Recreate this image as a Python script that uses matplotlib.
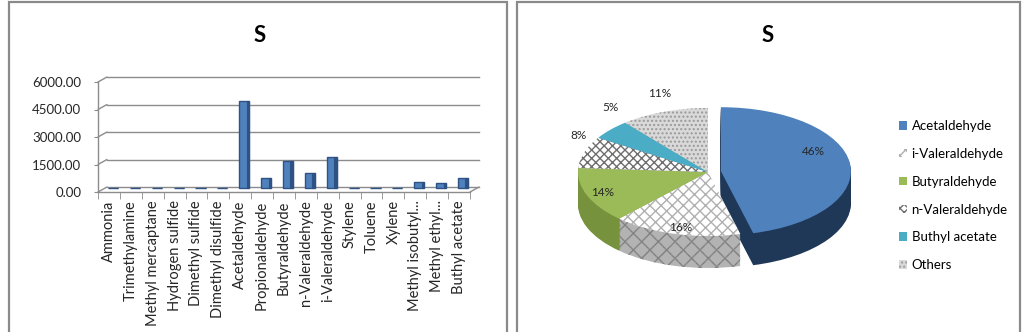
import numpy as np
import matplotlib
matplotlib.use("Agg")
import matplotlib.pyplot as plt
from matplotlib.patches import Rectangle, Patch
from matplotlib.transforms import ScaledTranslation

plt.rcParams['font.family'] = ['Lato', 'DejaVu Sans']

# ---------------- data ----------------
compounds = ["Ammonia", "Trimethylamine", "Methyl mercaptane", "Hydrogen sulfide",
             "Dimethyl sulfide", "Dimethyl disulfide", "Acetaldehyde", "Propionaldehyde",
             "Butyraldehyde", "n-Valeraldehyde", "i-Valeraldehyde", "Stylene", "Toluene",
             "Xylene", "Methyl isobutyl...", "Methyl ethyl...", "Buthyl acetate"]
concentrations = [15, 15, 15, 15, 15, 15, 4770, 530, 1470, 830, 1710, 15, 15, 15, 320, 265, 530]
yticks = [0, 1500, 3000, 4500, 6000]

pie_labels = ["Acetaldehyde", "i-Valeraldehyde", "Butyraldehyde", "n-Valeraldehyde",
              "Buthyl acetate", "Others"]
pie_shares = [46, 16, 14, 8, 5, 11]

# ---------------- figure ----------------
W, H = 1023, 332
fig = plt.figure(figsize=(W / 100, H / 100), dpi=100)
fig.patch.set_facecolor('white')

def fx(px):
    return px / W

def fy(py):
    return 1 - py / H

# panel borders
for x0, x1 in [(9, 507), (517, 1020)]:
    fig.patches.append(Rectangle((fx(x0), -0.05), fx(x1) - fx(x0), fy(2) + 0.05,
                                 transform=fig.transFigure, fill=False,
                                 edgecolor='#8a8a8a', lw=1.6, zorder=10))

gray = '#8c8c8c'

# ---------------- bar chart ----------------
fig.text(fx(260), fy(35), "S", ha='center', va='center', fontsize=16, fontweight='bold')
ax = fig.add_axes([fx(98), fy(192), fx(470) - fx(98), fy(82) - fy(192)])
x = np.arange(len(compounds))
ax.set_xlim(-0.5, len(compounds) - 0.5)
ax.set_ylim(0, 6000)

dxp, dyp = 9, 5
off = ScaledTranslation(dxp / 100, dyp / 100, fig.dpi_scale_trans)
for v in yticks:
    ax.plot([0, 1], [v, v], transform=ax.get_yaxis_transform() + off,
            color=gray, lw=1.0, clip_on=False, zorder=0)
    ax.annotate("", xy=(0, v), xycoords=ax.get_yaxis_transform(),
                xytext=(dxp, dyp), textcoords='offset pixels',
                arrowprops=dict(arrowstyle='-', color=gray, lw=1.0, shrinkA=0, shrinkB=0))
ax.annotate("", xy=(1, 0), xycoords='axes fraction',
            xytext=(dxp, dyp), textcoords='offset pixels',
            arrowprops=dict(arrowstyle='-', color=gray, lw=1.0, shrinkA=0, shrinkB=0))

bar_off = ax.transData + ScaledTranslation(4 / 100, 4 / 100, fig.dpi_scale_trans)
ax.bar(x, concentrations, width=0.46, color='#4F81BD', edgecolor='#2E5283',
       linewidth=1.0, zorder=3, transform=bar_off)
ax.bar(x + 0.17, concentrations, width=0.12, color='#2E5283', linewidth=0.8,
       edgecolor='#2E5283', zorder=3, transform=bar_off)

for s in ['top', 'right']:
    ax.spines[s].set_visible(False)
for s in ['left', 'bottom']:
    ax.spines[s].set_color(gray)
    ax.spines[s].set_linewidth(1.0)
ax.set_yticks(yticks)
ax.set_yticklabels([f"{v:.2f}" for v in yticks], fontsize=9.5, color='#262626')
ax.set_xticks(x)
ax.set_xticklabels(compounds, rotation=90, fontsize=10.5, color='#262626')
ax.set_xticks(np.arange(len(compounds) + 1) - 0.5, minor=True)
ax.tick_params(axis='x', which='major', length=0, pad=6)
ax.tick_params(axis='x', which='minor', length=5, color=gray)
ax.tick_params(axis='y', length=3, color=gray, pad=9)
ax.set_facecolor('none')

# ---------------- 3D-like pie ----------------
fig.text(fx(768), fy(35), "S", ha='center', va='center', fontsize=16, fontweight='bold')
pax = fig.add_axes([fx(540), fy(300), fx(880) - fx(540), fy(60) - fy(300)])
pax.axis('off')

explode = [0.1, 0, 0, 0, 0, 0]
side_colors = ['#1F3857', '#B3B3B3', '#76923C', '#8C8C8C', '#31859C', '#BFBFBF']
side_hatch = [None, 'xx', None, 'xxx', None, '...']
side_hcol = ['#1F3857', '#7F7F7F', '#76923C', '#595959', '#31859C', '#8C8C8C']
top_colors = ['#4F81BD', '#FFFFFF', '#9BBB59', '#FFFFFF', '#4BACC6', '#D9D9D9']
top_hatch = [None, 'xxx', None, 'xxxx', None, '....']
top_hcol = ['#4F81BD', '#B0B0B0', '#9BBB59', '#6E6E6E', '#4BACC6', '#9A9A9A']

depth = 0.5
n_layers = 26
for k in range(n_layers, 0, -1):
    d = depth * k / n_layers
    wedges, _ = pax.pie(pie_shares, explode=explode, startangle=90, counterclock=False,
                        center=(0, -d), colors=side_colors, wedgeprops=dict(linewidth=0))
    for w, h, hc in zip(wedges, side_hatch, side_hcol):
        w.set_edgecolor(hc)
        w.set_linewidth(0)
        if h:
            w.set_hatch(h)

wedges, _ = pax.pie(pie_shares, explode=explode, startangle=90, counterclock=False,
                    center=(0, 0), colors=top_colors, wedgeprops=dict(linewidth=0))
for w, h, hc in zip(wedges, top_hatch, top_hcol):
    w.set_edgecolor(hc)
    w.set_linewidth(0)
    if h:
        w.set_hatch(h)

label_r = [0.72, 0.85, 0.87, 1.05, 1.0, 1.09]
label_dy = [0.22, -0.05, 0.0, 0.25, 0.34, 0.2]
for w, share, r, dy in zip(wedges, pie_shares, label_r, label_dy):
    ang = np.deg2rad((w.theta1 + w.theta2) / 2)
    cx, cy = w.center
    pax.text(cx + r * np.cos(ang), cy + r * np.sin(ang) + dy, f"{share}%",
             ha='center', va='center', fontsize=8.5, color='#262626')

rx_px, ry_px, cx_px, cy_px = 130, 64, 708, 172
pax.set_aspect('auto')
pax.set_xlim(-(cx_px - 540) / rx_px, (880 - cx_px) / rx_px)
pax.set_ylim(-(300 - cy_px) / ry_px, (cy_px - 60) / ry_px)

handles = [Patch(facecolor=c, edgecolor=hc, hatch=h, linewidth=0)
           for c, h, hc in zip(top_colors, top_hatch, top_hcol)]
fig.legend(handles, pie_labels, loc='upper left', bbox_to_anchor=(fx(899), fy(120)),
           frameon=False, fontsize=9.5, handlelength=0.6, handleheight=0.6,
           handletextpad=0.35, labelspacing=1.2, borderaxespad=0, borderpad=0)

fig.savefig("out.png", dpi=100, facecolor='white')
